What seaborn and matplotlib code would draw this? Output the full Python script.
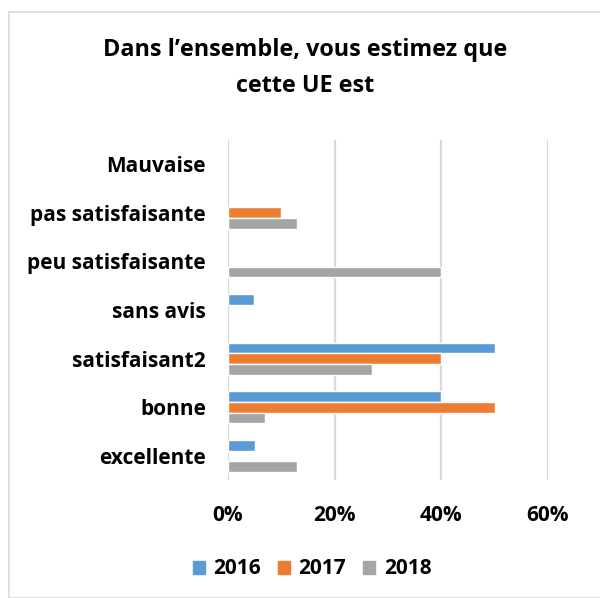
import matplotlib
matplotlib.use("Agg")
import matplotlib.pyplot as plt
import matplotlib.patches as mpatches
import pandas as pd
import seaborn as sns

categories = ["Mauvaise", "pas satisfaisante", "peu satisfaisante", "sans avis",
              "satisfaisant2", "bonne", "excellente"]
years = ["2016", "2017", "2018"]
v2016 = [0, 0, 0, 4.8, 50, 40, 5]
v2017 = [0, 10, 0, 0, 40, 50, 0]
v2018 = [0, 13, 40, 0, 27, 7, 13]
colors = ["#5B9BD5", "#ED7D31", "#A5A5A5"]
xticks = [0, 20, 40, 60]

rows = []
for yr, vals in zip(years, [v2016, v2017, v2018]):
    for cat, v in zip(categories, vals):
        rows.append({"cat": cat, "year": yr, "val": v if v > 0 else None})
df = pd.DataFrame(rows)

sns.set_style("white")
plt.rcParams["font.family"] = ["Open Sans", "DejaVu Sans"]
plt.rcParams["text.color"] = "black"
plt.rcParams["xtick.color"] = "black"
plt.rcParams["ytick.color"] = "black"
fs = 15

fig = plt.figure(figsize=(6.0, 5.98), dpi=100)
ax = fig.add_axes([0.38, 0.197, 0.5333, 0.569])

sns.barplot(data=df, y="cat", x="val", hue="year", order=categories,
            hue_order=years, palette=colors, orient="h", width=0.66,
            saturation=1, ax=ax, legend=False)

ax.set_xlim(0, 60)
ax.set_xticks(xticks)
ax.set_xticklabels([f"{t}%" for t in xticks], fontsize=fs, fontweight="bold")
ax.set_yticklabels(categories, fontsize=fs, fontweight="bold")
ax.tick_params(axis="both", length=0)
ax.tick_params(axis="y", pad=16)
ax.tick_params(axis="x", pad=18)
ax.set_xlabel("")
ax.set_ylabel("")
for s in ax.spines.values():
    s.set_visible(False)
ax.xaxis.grid(True, color="#D9D9D9", linewidth=1.6)
ax.set_axisbelow(True)

fig.text(0.508, 1 - 50 / 598, "Dans l\u2019ensemble, vous estimez que", ha="center",
         va="center", fontsize=16.8, fontweight="bold")
fig.text(0.508, 1 - 86 / 598, "cette UE est", ha="center", va="center",
         fontsize=16.8, fontweight="bold")

handles = [mpatches.Patch(color=c, label=y) for c, y in zip(colors, years)]
fig.legend(handles=handles, loc="center", bbox_to_anchor=(0.52, 1 - 569 / 598),
           ncol=3, frameon=False, handlelength=0.6, handleheight=0.6,
           handletextpad=0.4, columnspacing=0.8,
           prop={"size": fs, "weight": "bold"})

border = mpatches.Rectangle((8.5 / 600, 0), 1.0, 1 - 11.5 / 598, transform=fig.transFigure,
                            fill=False, edgecolor="#D9D9D9", linewidth=1.2)
fig.patches.append(border)

fig.savefig("out.png", dpi=100)
